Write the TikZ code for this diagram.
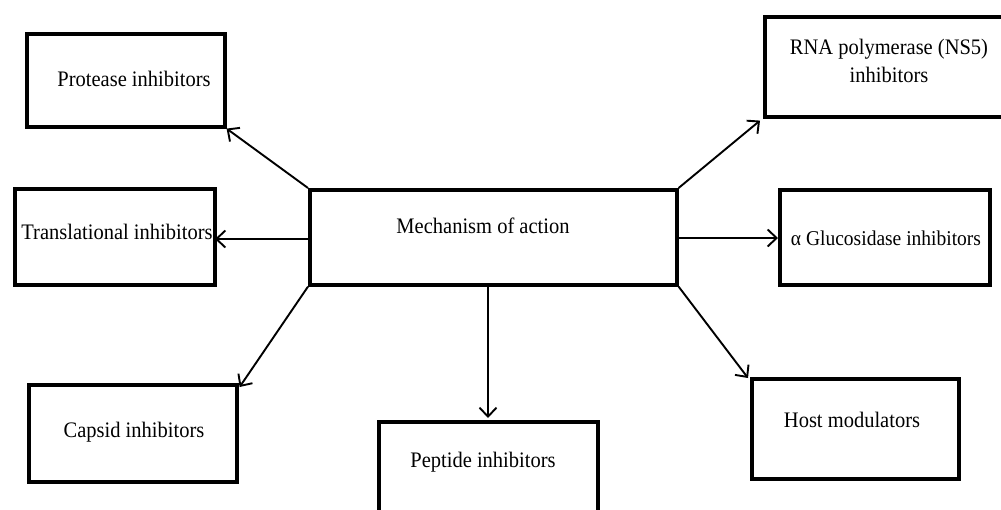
\documentclass[tikz,border=0pt]{standalone}
\usepackage{fontspec}
\usepackage{graphicx}
\setmainfont{Liberation Serif}
\usetikzlibrary{arrows.meta}
\newcommand{\tallt}[1]{\scalebox{1}[1.08]{#1}}
\begin{document}
\begin{tikzpicture}[x=1pt,y=-1pt,
  boxnode/.style={draw=black,line width=3.6pt,rectangle,inner sep=0pt,anchor=north west},
  lbl/.style={inner sep=0pt,font=\fontsize{20.5}{28}\selectfont,align=center},
  conn/.style={line width=1.9pt,-{Straight Barb[length=9pt,width=17pt,line width=1.9pt]}}]
\useasboundingbox (0,0) rectangle (1001,509);
\fill[white] (0,0) rectangle (1001,509);
% boxes
\node[boxnode,minimum width=198pt,minimum height=93pt] (prot) at (25,32) {};
\node[boxnode,minimum width=200pt,minimum height=96pt] (trans) at (13,187) {};
\node[boxnode,minimum width=208pt,minimum height=97pt] (caps) at (27,383) {};
\node[boxnode,minimum width=219pt,minimum height=140pt] (pept) at (377,420) {};
\node[boxnode,minimum width=207pt,minimum height=100pt] (host) at (750,377) {};
\node[boxnode,minimum width=210pt,minimum height=95pt] (gluc) at (778,188) {};
\node[boxnode,minimum width=260pt,minimum height=100pt] (rna) at (763,15) {};
\node[boxnode,minimum width=367pt,minimum height=95pt] (mech) at (308,188) {};
% labels
\node[lbl] (protT) at (134,79) {\tallt{Protease inhibitors}};
\node[lbl] (transT) at (117,232) {\tallt{Translational inhibitors}};
\node[lbl] (capsT) at (134,432) {\tallt{Capsid inhibitors}};
\node[lbl] (peptT) at (483,462) {\tallt{Peptide inhibitors}};
\node[lbl] (hostT) at (852,420) {\tallt{Host modulators}};
\node[lbl,font=\fontsize{19.5}{28}\selectfont] (glucT) at (886,238) {\tallt{α Glucosidase inhibitors}};
\node[lbl] (rnaT) at (889,61) {\tallt{RNA polymerase (NS5)}\\\tallt{inhibitors}};
\node[lbl] (mechT) at (483,226) {\tallt{Mechanism of action}};
% connectors
\coordinate (tL) at (215,239);
\draw[conn] (mech.north west) -- (prot.south east);
\draw[conn] (mech.west |- tL) -- (tL);
\draw[conn] (mech.south west) -- ([xshift=1pt,yshift=-4pt]caps.north east);
\draw[conn] (488,283) -- (488,418);
\draw[conn] (mech.south east) -- ([xshift=-2pt,yshift=-1pt]host.north west);
\draw[conn] (mech.east |- glucT) -- (gluc.west |- glucT);
\draw[conn] (mech.north east) -- ([xshift=-3pt,yshift=-2pt]rna.south west);
\end{tikzpicture}
\end{document}
